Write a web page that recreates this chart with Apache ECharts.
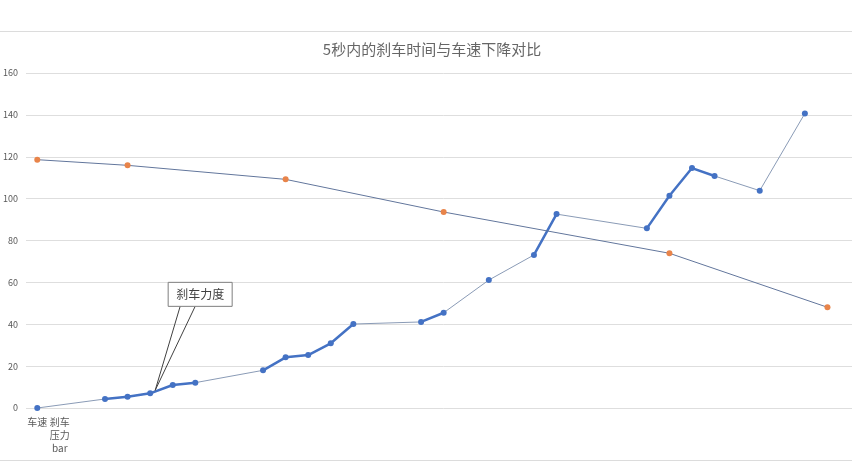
<!DOCTYPE html>
<html>
<head>
<meta charset="utf-8">
<script src="https://cdn.jsdelivr.net/npm/echarts@6/dist/echarts.min.js"></script>
<style>
  html, body { margin: 0; padding: 0; background: #fff; overflow: hidden; }
  #chart { width: 864px; height: 476px; }
</style>
</head>
<body>
<div id="chart"></div>
<script>
// 刹车时间与车速对比（右侧被裁掉一部分，所以容器比窗口宽一点）

const titleText = '5秒内的刹车时间与车速下降对比';
const calloutText = '刹车力度';

// 类目（只有前两个有标签，最后一个是空的）
const categories = ['车速', '刹车压力bar', '', '', '', '', '', '', '', '', '', '', '', '', '', '', '', '', '',
    '', '', '', '', '', '', '', '', '', '', '', '', '', '', '', '', '', ''];

// 刹车压力 bar
const brake = [0, null, null, 4.3, 5.4, 7.0, 11.0, 12.1, null, null, 18.0, 24.2, 25.3, 30.9, 40.1, null, null,
    41.1, 45.5, null, 61.1, null, 73.1, 92.6, null, null, null, 85.8, 101.4, 114.6, 110.8, null, 103.8, null,
    140.7, null, null];

// 车速
const speed = [118.6, null, null, null, 115.9, null, null, null, null, null, null, 109.2, null, null, null, null,
    null, null, 93.6, null, null, null, null, null, null, null, null, null, 73.9, null, null, null, null, null,
    null, 48.1, null];

const yTicks = { min: 0, max: 160, interval: 20 };
const calloutIndex = 5;

const chart = echarts.init(document.getElementById('chart'));
const font = '"Noto Sans CJK SC", "Noto Sans", sans-serif';

chart.setOption({
    animation: false,
    textStyle: { fontFamily: font },
    title: {
        text: titleText,
        left: 'center',
        top: 37,
        textStyle: { fontSize: 15, fontWeight: 'normal', color: '#666', fontFamily: font }
    },
    grid: { left: 24.7, right: 1, top: 73, bottom: 68 },
    xAxis: {
        type: 'category',
        data: categories,
        boundaryGap: true,
        axisLine: { show: false },
        axisTick: { show: false },
        axisLabel: {
            interval: 0,
            margin: 8,
            fontSize: 10,
            lineHeight: 13,
            color: '#595959',
            width: 22,
            overflow: 'break'
        }
    },
    yAxis: {
        type: 'value',
        min: yTicks.min,
        max: yTicks.max,
        interval: yTicks.interval,
        axisLine: { show: false },
        axisTick: { show: false },
        axisLabel: { fontSize: 9, color: '#595959', margin: 8 },
        splitLine: { lineStyle: { color: '#dedede', width: 1 } }
    },
    series: [{
        // 细线连接断开的点
        name: '刹车压力bar',
        type: 'line',
        data: brake,
        connectNulls: true,
        symbol: 'none',
        lineStyle: { color: '#8a9bb6', width: 1 },
        z: 2
    }, {
        name: '刹车压力bar',
        type: 'line',
        data: brake,
        connectNulls: false,
        symbol: 'circle',
        symbolSize: 6,
        itemStyle: { color: '#4472c4' },
        lineStyle: { color: '#4472c4', width: 2.5 },
        z: 3
    }, {
        name: '车速',
        type: 'line',
        data: speed,
        connectNulls: true,
        symbol: 'circle',
        symbolSize: 6,
        itemStyle: { color: '#e8844a' },
        lineStyle: { color: '#62769c', width: 1 },
        z: 4
    }]
});

// 标注框
const tip = chart.convertToPixel({ seriesIndex: 1 }, [calloutIndex, brake[calloutIndex]]);
const tx = tip[0] + 5, ty = tip[1] - 3;
const boxX = tx + 13, boxY = ty - 108, boxW = 64, boxH = 24;

chart.setOption({
    graphic: [{
        type: 'line',
        shape: { x1: 0, y1: 31.5, x2: 864, y2: 31.5 },
        style: { stroke: '#dcdcdc', lineWidth: 1 }
    }, {
        type: 'line',
        shape: { x1: 0, y1: 460.5, x2: 864, y2: 460.5 },
        style: { stroke: '#dcdcdc', lineWidth: 1 }
    }, {
        type: 'polyline',
        shape: { points: [[tx + 25, boxY + boxH], [tx, ty], [tx + 40, boxY + boxH]] },
        style: { stroke: '#404040', lineWidth: 1, fill: null },
        z: 10
    }, {
        type: 'rect',
        shape: { x: boxX, y: boxY, width: boxW, height: boxH },
        style: { fill: '#fff', stroke: '#7f7f7f', lineWidth: 1 },
        z: 11
    }, {
        type: 'text',
        x: boxX + boxW / 2,
        y: boxY + boxH / 2,
        style: {
            text: calloutText,
            fontSize: 12,
            fill: '#404040',
            fontFamily: font,
            align: 'center',
            verticalAlign: 'middle'
        },
        z: 12
    }]
});
</script>
</body>
</html>
